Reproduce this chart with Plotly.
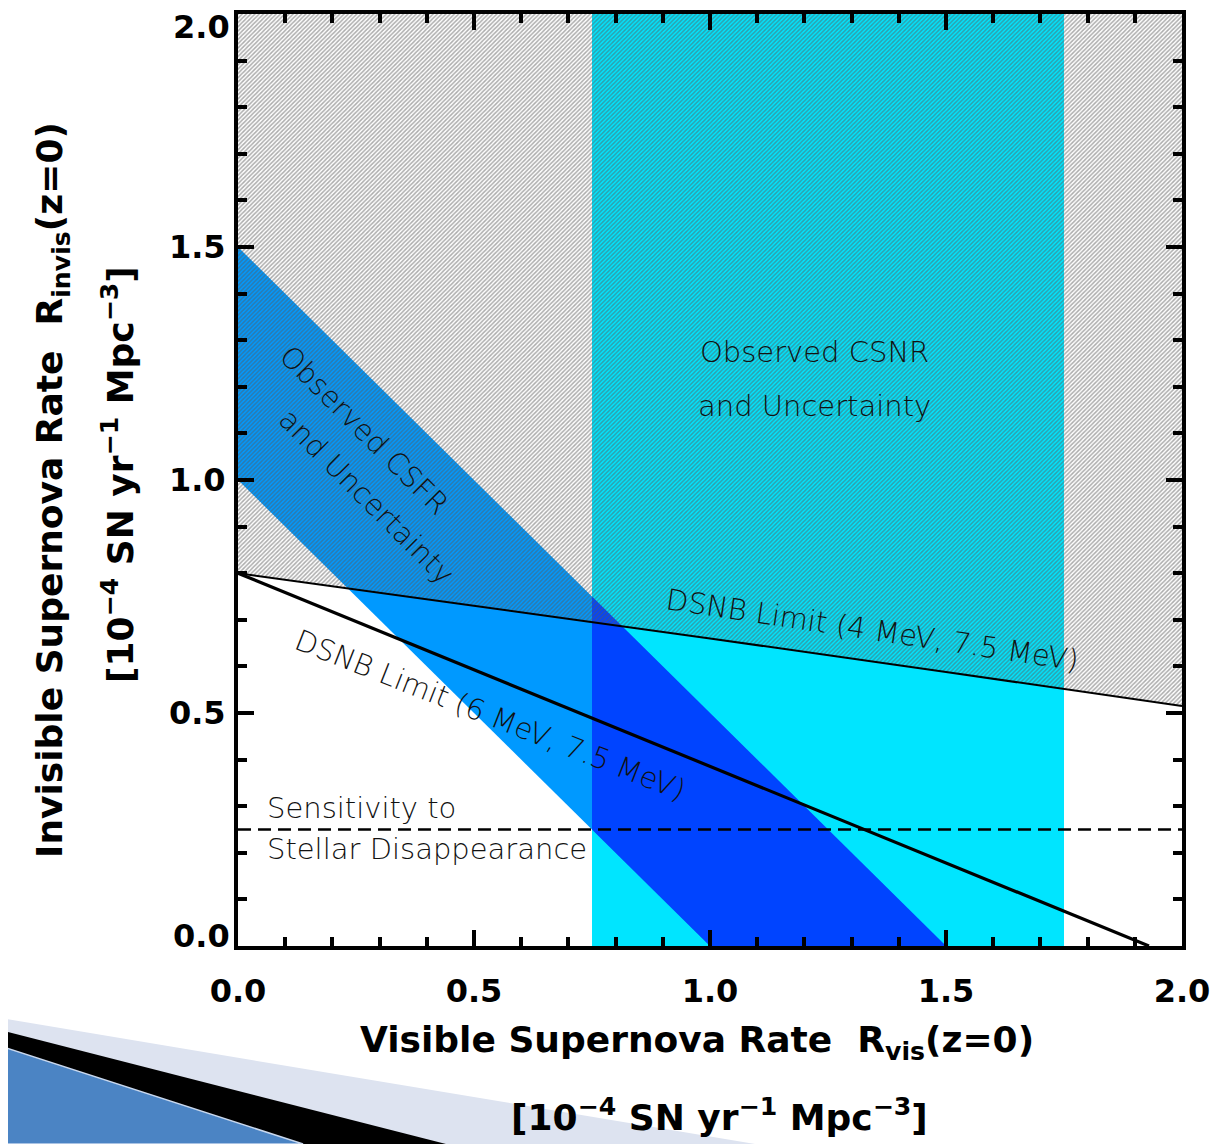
import plotly.graph_objects as go

# ---------------- data ----------------
csnr_range = [0.75, 1.75]          # observed CSNR band (x)
csfr_intercepts = [1.0, 1.5]       # CSFR band: R_invis = a - R_vis, a in [1.0, 1.5]
dsnb4_x = [0.0, 0.5, 1.0, 1.5, 2.0]
dsnb4_y = [0.80, 0.73, 0.66, 0.588, 0.515]   # DSNB limit (4 MeV, 7.5 MeV)
dsnb6_x = [0.0, 1.93]
dsnb6_y = [0.80, 0.0]                         # DSNB limit (6 MeV, 7.5 MeV)
sensitivity = 0.25
xlim = [0.0, 2.0]
ylim = [0.0, 2.0]
tick_vals = [0.0, 0.5, 1.0, 1.5, 2.0]
tick_text = ["0.0", "0.5", "1.0", "1.5", "2.0"]

# ---------------- figure geometry (page pixels) ----------------
OFF = 8                      # default body margin of the html page
PAGE_W, PAGE_H = 1219, 1144
W, H = PAGE_W - OFF, PAGE_H - OFF
PL, PR, PT, PB = 238, 1182, 14, 946          # plot area in page pixels
ML, MT = PL - OFF, PT - OFF
MR, MB = W - (PR - OFF), H - (PB - OFF)
PW, PH = PR - PL, PB - PT

def px2paper(px, py):
    return (px - PL) / PW, (PB - py) / PH

fig = go.Figure()

lo, hi = csfr_intercepts
c0, c1 = csnr_range

# cyan CSNR band
fig.add_trace(go.Scatter(x=[c0, c1, c1, c0], y=[ylim[0], ylim[0], ylim[1], ylim[1]],
                         fill="toself", fillcolor="#00E5FF", mode="none",
                         hoverinfo="skip", showlegend=False))
# CSFR band
fig.add_trace(go.Scatter(x=[0, lo, hi, 0], y=[lo, 0, 0, hi],
                         fill="toself", fillcolor="#0099FF", mode="none",
                         hoverinfo="skip", showlegend=False))
# overlap of CSFR band and CSNR band
ox = [c0, c0, lo, min(hi, c1)]
oy = [hi - c0, lo - c0, 0, 0]
fig.add_trace(go.Scatter(x=ox, y=oy,
                         fill="toself", fillcolor="#0044FF", mode="none",
                         hoverinfo="skip", showlegend=False))
# hatched excluded region above the 4 MeV DSNB limit
hx = dsnb4_x + [xlim[1], xlim[0]]
hy = dsnb4_y + [ylim[1], ylim[1]]
fig.add_trace(go.Scatter(x=hx, y=hy, fill="toself", fillcolor="rgba(0,0,0,0)",
                         fillpattern=dict(shape="/", fgcolor="#5a5a5a",
                                          bgcolor="rgba(0,0,0,0)", size=3,
                                          solidity=0.5, fillmode="overlay"),
                         mode="none", hoverinfo="skip", showlegend=False))
# 4 MeV limit line
fig.add_trace(go.Scatter(x=dsnb4_x, y=dsnb4_y, mode="lines",
                         line=dict(color="black", width=2),
                         hoverinfo="skip", showlegend=False))
# 6 MeV limit line
fig.add_trace(go.Scatter(x=dsnb6_x, y=dsnb6_y, mode="lines",
                         line=dict(color="black", width=3.2),
                         hoverinfo="skip", showlegend=False))
# sensitivity dashed line
fig.add_trace(go.Scatter(x=xlim, y=[sensitivity, sensitivity], mode="lines",
                         line=dict(color="black", width=2.6, dash="13px,7px"),
                         hoverinfo="skip", showlegend=False))

thin = dict(family="DejaVu Sans", size=29, color="#111111", weight=200)
ann = []
def txt(x, y, s, angle=0, xanchor="center"):
    ann.append(dict(x=x, y=y, xref="x", yref="y", text=s, showarrow=False,
                    font=thin, textangle=angle, xanchor=xanchor, yanchor="middle"))

txt(1.222, 1.275, "Observed CSNR")
txt(1.222, 1.159, "and Uncertainty")
txt(0.267, 1.107, "Observed CSFR", 45)
txt(0.273, 0.964, "and Uncertainty", 45)
txt(1.345, 0.678, "DSNB Limit (4 MeV, 7.5 MeV)", 8.5)
txt(0.534, 0.496, "DSNB Limit (6 MeV, 7.5 MeV)", 21.5)
txt(0.057, 0.296, "Sensitivity to", 0, "left")
txt(0.057, 0.208, "Stellar Disappearance", 0, "left")

bold = dict(family="DejaVu Sans", size=36, color="black", weight=700)
tickfont = dict(family="DejaVu Sans", size=32, color="black", weight=700)
unit = "[10<sup>−4</sup> SN yr<sup>−1</sup> Mpc<sup>−3</sup>]"

def ptxt(px, py, s, angle=0):
    xx, yy = px2paper(px, py)
    ann.append(dict(x=xx, y=yy, xref="paper", yref="paper", showarrow=False,
                    text=s, font=bold, textangle=angle,
                    xanchor="center", yanchor="middle"))

ptxt(697, 1042, "Visible Supernova Rate  R<sub>vis</sub>(z=0)")
ptxt(719, 1115, unit)
ptxt(52, 490, "Invisible Supernova Rate  R<sub>invis</sub>(z=0)", -90)
ptxt(118, 475, unit, -90)

# y-axis end labels are nudged inward (as in the original figure)
y_ticktext = ["" if v in (ylim[0], ylim[1]) else t for v, t in zip(tick_vals, tick_text)]
for v, t in zip(tick_vals, tick_text):
    if v in (ylim[0], ylim[1]):
        ann.append(dict(x=0, y=v, xref="paper", yref="y", text=t, showarrow=False,
                        font=tickfont, xanchor="right", yanchor="middle",
                        xshift=-6, yshift=(-13 if v == ylim[1] else 10)))

# decorative slide graphics (bottom-left corner)
def poly(pts):
    p = [px2paper(a, b) for a, b in pts]
    return "M " + " L ".join(f"{a:.4f},{b:.4f}" for a, b in p) + " Z"

shapes = [
    dict(type="path", xref="paper", yref="paper", layer="below",
         path=poly([(0, 1018), (755, 1144), (0, 1144)]),
         fillcolor="#DDE3F0", line=dict(width=0)),
    dict(type="path", xref="paper", yref="paper", layer="below",
         path=poly([(0, 1030), (446, 1144), (0, 1144)]),
         fillcolor="black", line=dict(width=0)),
    dict(type="path", xref="paper", yref="paper", layer="below",
         path=poly([(0, 1046), (303, 1144), (0, 1144)]),
         fillcolor="#4B84C4", line=dict(width=1.5, color="#C9D8EE")),
]

axis_common = dict(showgrid=False, zeroline=False, showline=True, linewidth=4,
                   linecolor="black", mirror="ticks", ticks="inside",
                   ticklen=16, tickwidth=4, tickcolor="black",
                   tickvals=tick_vals,
                   tickfont=tickfont, ticklabeloverflow="allow",
                   automargin=False,
                   minor=dict(ticks="inside", dtick=0.1, ticklen=9,
                              tickwidth=4, tickcolor="black"))

fig.update_layout(
    width=W, height=H,
    margin=dict(l=ML, r=MR, t=MT, b=MB, pad=0),
    paper_bgcolor="white", plot_bgcolor="white",
    xaxis=dict(range=xlim, ticklabelstandoff=14, ticktext=tick_text, **axis_common),
    yaxis=dict(range=ylim, ticklabelstandoff=2, ticktext=y_ticktext, **axis_common),
    annotations=ann, shapes=shapes,
)

fig.write_html("out.html")
